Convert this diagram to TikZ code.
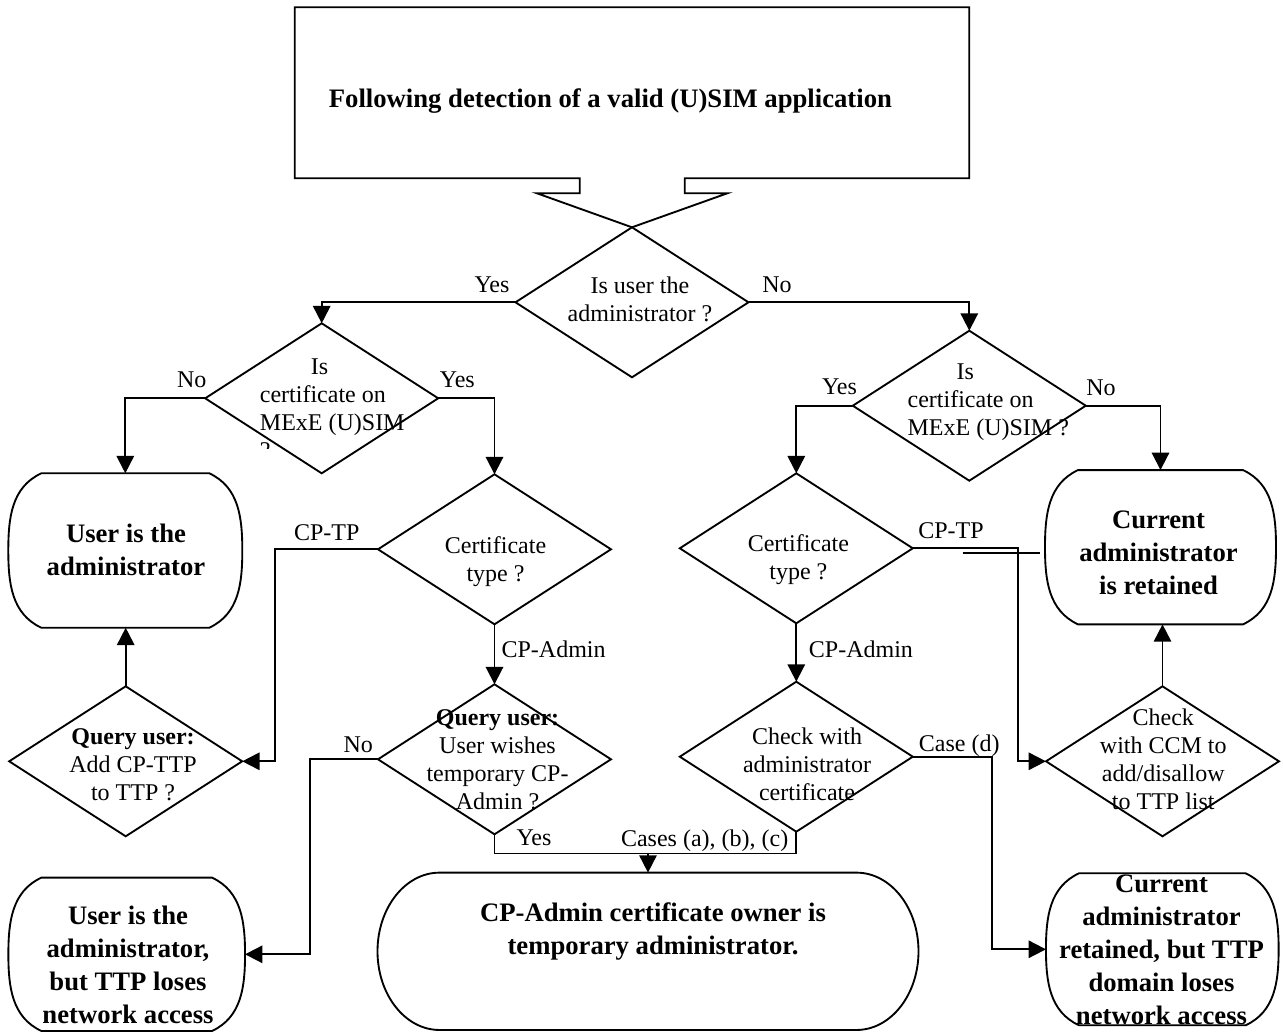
\documentclass[tikz,border=0pt]{standalone}
\usepackage{fontspec}
\setmainfont{Liberation Serif}
\usetikzlibrary{shapes.geometric,arrows.meta,calc}

% Outline of a terminal box with bulging left and right sides
\newcommand\bulgeframe[1]{%
  \draw[frame] ([xshift=24.75pt]#1.north west) -- ([xshift=-24.75pt]#1.north east)
    to[out=-25,in=90] (#1.east) to[out=-90,in=25] ([xshift=-24.75pt]#1.south east)
    -- ([xshift=24.75pt]#1.south west) to[out=155,in=-90] (#1.west)
    to[out=90,in=-155] ([xshift=24.75pt]#1.north west) -- cycle;}

\begin{document}
\begin{tikzpicture}[x=0.75pt,y=0.75pt,
  line width=1.4pt,
  frame/.style={draw,line width=1.4pt,line join=miter},
  dia/.style={draw,diamond,minimum width=174.75pt,minimum height=112.5pt,
    inner sep=0pt,outer sep=0pt,line width=1.4pt},
  holder/.style={draw=none,rectangle,inner sep=0pt,outer sep=0pt},
  txt/.style={inner sep=0pt,font=\fontsize{18pt}{21pt}\selectfont,align=center},
  btxt/.style={inner sep=0pt,font=\bfseries\fontsize{20pt}{24.75pt}\selectfont,align=center},
  lbl/.style={inner sep=0pt,font=\fontsize{18pt}{21pt}\selectfont},
  arr/.style={-{Triangle[length=13pt,width=13pt]}}]

\useasboundingbox (0,0) rectangle (1283,-1032);

% ---------- start box ----------
\node[holder,minimum width=505.95pt,minimum height=128.25pt] (start) at (632,-92.8) {};
\node[btxt,anchor=west] (startt) at (328,-101) {Following detection of a valid (U)SIM application};

% ---------- decisions ----------
\node[dia] (q1)  at (632,-302.3) {};
\node[dia] (qL)  at (321.7,-398.3) {};
\node[dia] (qR)  at (969.3,-405.7) {};
\node[dia] (ctL) at (494.5,-549.3) {};
\node[dia] (ctR) at (796.3,-548.3) {};
\node[dia] (quL) at (125.7,-761.3) {};
\node[dia] (qu2) at (494.5,-759.3) {};
\node[dia] (ck)  at (796.3,-756.7) {};
\node[dia] (ccm) at (1162.5,-761.3) {};

% start box outline with its funnel into the first decision
\draw[frame] (579.7,-178.3) -- (start.south west) -- (start.north west)
  -- (start.north east) -- (start.south east) -- (684.7,-178.3)
  -- (684.7,-193.3) -- (727.3,-193.3) -- (q1.north) -- (537,-193.3)
  -- (579.7,-193.3) -- cycle;

% ---------- terminal boxes ----------
\node[holder,minimum width=175.5pt,minimum height=115.8pt] (tl) at (125.3,-550.5) {};
\node[holder,minimum width=173.25pt,minimum height=115.7pt] (tr) at (1160.5,-547.2) {};
\node[holder,minimum width=177.5pt,minimum height=115pt] (bl) at (126.7,-954.3) {};
\node[holder,minimum width=174.5pt,minimum height=114pt] (br) at (1162.3,-949.3) {};
\node[holder,minimum width=405.75pt,minimum height=118pt] (mid) at (648,-951.3) {};
\bulgeframe{tl}
\bulgeframe{tr}
\bulgeframe{bl}
\bulgeframe{br}
\draw[frame] ([xshift=46.5pt]mid.north west) -- ([xshift=-46.5pt]mid.north east)
  arc[start angle=90,end angle=-90,x radius=46.5pt,y radius=59pt]
  -- ([xshift=46.5pt]mid.south west)
  arc[start angle=270,end angle=90,x radius=46.5pt,y radius=59pt] -- cycle;

% ---------- texts ----------
\node[txt] (q1t) at (640,-299) {Is user the\\administrator ?};
\begin{scope}
  \clip (250,-330) rectangle (420,-448.5);
  \node[txt,align=left,anchor=west] (qLt) at (259,-409)
    {\hspace*{38.25pt}Is\\certificate on\\MExE (U)SIM\\?};
\end{scope}
\node[txt,align=left,anchor=west] (qRt) at (906.7,-402.5)
  {\hspace*{36.75pt}Is\\certificate on\\MExE (U)SIM ?};
\node[txt] (ctLt) at (495.5,-562) {Certificate\\type ?};
\node[txt] (ctRt) at (798.4,-559.5) {Certificate\\type ?};
\node[txt] (quLt) at (133,-765) {\textbf{Query user:}\\Add CP-TTP\\to TTP ?};
\node[txt] (qu2t) at (497.5,-759.4) {\textbf{Query user:}\\User wishes\\temporary CP-\\Admin ?};
\node[txt] (ckt) at (807,-764) {Check with\\administrator\\certificate};
\node[txt] (ccmt) at (1163.3,-759.4) {Check\\with CCM to\\add/disallow\\to TTP list};

\node[btxt] (tlt) at (126,-549.4) {User is the\\administrator};
\node[btxt] (trt) at (1158.5,-552.5) {Current\\administrator\\is retained};
\node[btxt] (blt) at (128,-964.7) {User is the\\administrator,\\but TTP loses\\network access};
\node[btxt] (brt) at (1161.5,-950.2) {Current\\administrator\\retained, but TTP\\domain loses\\network access};
\node[btxt] (midt) at (653,-931) {CP-Admin certificate owner is\\temporary administrator.};

% ---------- connectors ----------
\draw[arr] (q1.west) -| (qL.north);
\draw[arr] (q1.east) -| (qR.north);
\draw[arr] (qL.west) -| (tl.north);
\draw[arr] (qL.east) -| (ctL.north);
\draw[arr] (qR.west) -| (ctR.north);
\draw[arr] (qR.east) -| (tr.north);
\draw[arr] (ctL.west) -- ++(-103.3,0) |- (quL.east);
\draw[arr] (quL.north) -- (quL.north |- tl.south);
\draw[arr] (ctL.south) -- (qu2.north);
\draw[arr] (qu2.west) -- ++(-68.3,0) |- (bl.east);
\coordinate (jn) at (648,-853.5);
\draw (qu2.south) |- (jn);
\draw (ck.south) |- (jn);
\draw[arr] (jn) -- (mid.north);
\draw[arr] (ctR.south) -- (ck.north);
\draw[arr] (ctR.east) -- ++(105.6,0) |- (ccm.west);
\coordinate (s1) at (962.7,-552.7);
\coordinate (s2) at (1040,-552.7);
\draw (s1) -- (s2);
\draw[arr] (ccm.north) -- (ccm.north |- tr.south);
\draw[arr] (ck.east) -- ++(79.3,0) |- (br.west);

% ---------- branch labels ----------
\node[lbl] (l1) at (492,-285) {Yes};
\node[lbl] (l2) at (777,-285) {No};
\node[lbl] (l3) at (191.7,-380) {No};
\node[lbl] (l4) at (457.3,-380) {Yes};
\node[lbl] (l5) at (839.5,-386.7) {Yes};
\node[lbl] (l6) at (1101,-387.7) {No};
\node[lbl] (l7) at (326.7,-532.7) {CP-TP};
\node[lbl] (l8) at (951,-531) {CP-TP};
\node[lbl,anchor=west] (l9) at (500.7,-649.3) {CP-Admin};
\node[lbl,anchor=west] (l10) at (808,-649.3) {CP-Admin};
\node[lbl] (l11) at (358.3,-744.3) {No};
\node[lbl] (l12) at (534,-837.7) {Yes};
\node[lbl] (l13) at (704.7,-841) {Cases (a), (b), (c)};
\node[lbl] (l14) at (959.3,-746) {Case (d)};
\end{tikzpicture}
\end{document}
